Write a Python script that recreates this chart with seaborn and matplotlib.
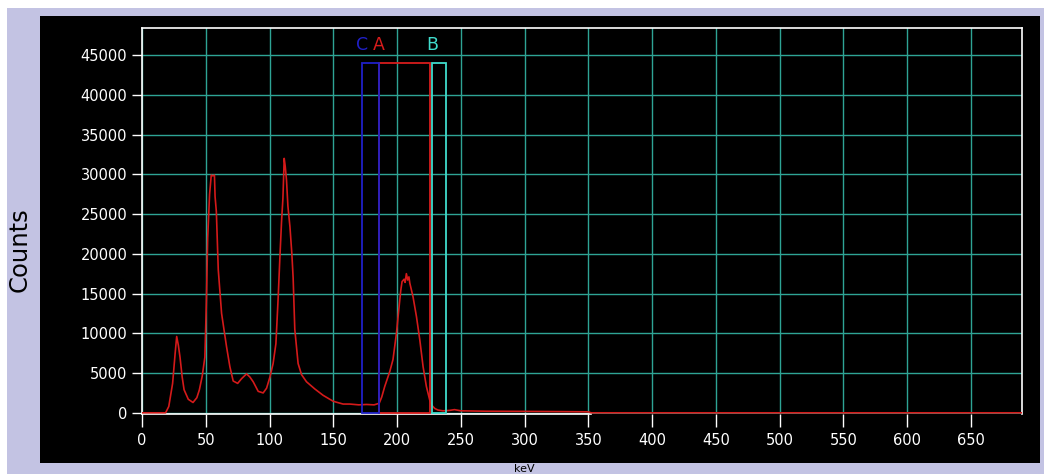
import matplotlib
matplotlib.use("Agg")
import matplotlib.pyplot as plt
from matplotlib.patches import Rectangle
import seaborn as sns
import pandas as pd

# ---- data ----
kev = [0, 18.5, 21, 24, 26, 27.2, 28.5, 29.8, 31.5, 33, 36.3, 40, 43, 45, 47.2, 49.3,
       50.5, 51.5, 53, 54.3, 55.5, 56.8, 57.3, 58.3, 59.8, 62.4, 66.3, 68.9, 71.5, 75,
       78.1, 82, 84.6, 87.2, 91.1, 95, 97.7, 100.3, 102.8, 105, 106.8, 108.1, 109.4,
       110.5, 111.5, 112.3, 113.3, 114.4, 116, 117.5, 118.5, 119.8, 122.4, 125.1, 129,
       135.5, 142, 149.9, 157.7, 163, 170, 176, 182, 186, 188, 190.3, 194.3, 196.8,
       199.5, 201.3, 202.9, 203.9, 205.5, 206.3, 207.3, 208.3, 209.3, 210, 212.5, 215.2,
       217.8, 220.4, 223, 225.6, 227.5, 229.5, 232, 236, 241, 245, 250, 270, 300, 330,
       350, 352, 690]
counts = [0, 0, 800, 3700, 7500, 9600, 8500, 7000, 4500, 2900, 1700, 1300, 1900, 2900,
          4600, 7000, 14000, 22000, 27500, 29900, 29800, 29900, 27200, 25300, 18000, 12500,
          8300, 5800, 4000, 3700, 4300, 4900, 4500, 3900, 2700, 2500, 3100, 4500, 6200,
          8700, 14600, 19500, 24000, 27000, 32000, 31000, 29300, 26000, 23400, 20000,
          17000, 10500, 6200, 4800, 3900, 3000, 2200, 1450, 1100, 1100, 1000, 1050, 1000,
          1200, 2000, 3300, 5200, 6700, 10000, 12900, 15400, 16500, 16800, 16400, 17500,
          16700, 17100, 16300, 14600, 12100, 9200, 5800, 3300, 1600, 900, 550, 350, 250,
          300, 400, 250, 200, 180, 150, 120, 0, 0]

roi_labels = ["A", "C", "B"]
roi_lo = [186.0, 172.6, 227.3]
roi_hi = [225.7, 186.0, 238.5]
roi_top = [44000, 44000, 44000]
roi_colors = ["#d81c1c", "#2020c8", "#40dccc"]

x_ticks = list(range(0, 700, 50))
y_ticks = list(range(0, 50000, 5000))

df = pd.DataFrame({"keV": kev, "Counts": counts})

# ---- figure ----
W, H = 1044, 474
fig = plt.figure(figsize=(W / 100, H / 100), dpi=100, facecolor="white")

def fr(x0, y0, x1, y1, color, z):
    fig.patches.append(Rectangle((x0 / W, 1 - y1 / H), (x1 - x0) / W, (y1 - y0) / H,
                                 transform=fig.transFigure, facecolor=color,
                                 edgecolor="none", zorder=z))

fr(7, 8, W, H, "#c3c3e3", -10)
fr(40, 16, 1040, 463, "black", -9)

left, right, top, bottom = 142, 1022, 28, 414
ax = fig.add_axes([left / W, 1 - bottom / H, (right - left) / W, (bottom - top) / H])
ax.set_facecolor("black")
ax.patch.set_alpha(0)

grid_c = "#2ea495"
ax.set_xlim(0, 690)
ax.set_ylim(-150, 48400)
ax.set_xticks(x_ticks)
ax.set_yticks(y_ticks)
ax.grid(True, color=grid_c, linewidth=1.0)
ax.set_axisbelow(True)

sns.lineplot(data=df, x="keV", y="Counts", ax=ax, color="#d41a1a", linewidth=1.2,
             sort=False, estimator=None, zorder=4)

for lab, lo, hi, tp, c in zip(roi_labels, roi_lo, roi_hi, roi_top, roi_colors):
    ax.add_patch(Rectangle((lo, 0), hi - lo, tp, facecolor="none", edgecolor=c,
                           linewidth=1.3, zorder=5))
    ax.text(lo, 46300, lab, color=c, fontsize=12.5, ha="center", va="center",
            clip_on=False, zorder=6)

for s in ["left", "top", "right", "bottom"]:
    ax.spines[s].set_color("white")
    ax.spines[s].set_linewidth(1.2)
ax.spines["bottom"].set_bounds(0, 352)
ax.spines["bottom"].set_zorder(3)

ax.tick_params(axis="both", colors="white", labelcolor="white", labelsize=10.5,
               width=1.0)
ax.tick_params(axis="x", length=9, pad=5)
ax.tick_params(axis="y", length=7.5, pad=3)
ax.set_xlabel("")
ax.set_ylabel("")

fig.text(20 / W, 1 - 250 / H, "Counts", rotation=90, ha="center", va="center",
         fontsize=17.5, color="black")
fig.text(524 / W, 1 - 473.5 / H, "keV", ha="center", va="bottom", fontsize=8,
         color="black")

fig.savefig("out.png", dpi=100, facecolor="white")
